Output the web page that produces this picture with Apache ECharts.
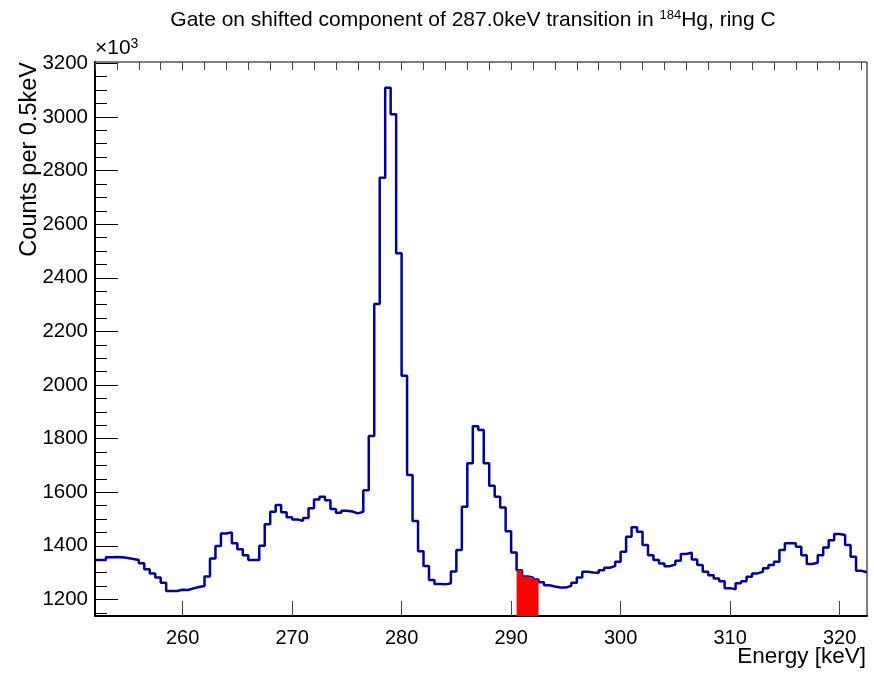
<!DOCTYPE html>
<html><head><meta charset="utf-8">
<script src="https://cdn.jsdelivr.net/npm/echarts@6/dist/echarts.min.js"></script>
<style>html,body{margin:0;padding:0;background:#fff}#c{width:874px;height:673px}</style>
</head><body><div id="c"></div>
<script>
// ---- data ----
const binLow = 252;          // lower edge of first bin (keV)
const binWidth = 0.5;        // keV per bin
const counts = [
  1347,1347,1357,1358,1357,1354,1351,1347,1335,1312,
  1297,1282,1262,1231,1231,1236,1235,1241,1246,1250,
  1285,1353,1399,1446,1450,1409,1387,1365,1347,1347,
  1400,1480,1527,1552,1525,1506,1498,1493,1504,1540,
  1573,1583,1570,1537,1523,1531,1528,1521,1527,1607,
  1810,2302,2773,3109,3010,2491,2034,1664,1492,1380,
  1325,1272,1257,1256,1260,1304,1384,1546,1708,1846,
  1832,1708,1624,1583,1543,1454,1375,1309,1285,1282,
  1274,1264,1253,1248,1244,1244,1251,1262,1282,1303,
  1300,1299,1309,1318,1324,1340,1378,1434,1469,1452,
  1403,1365,1347,1334,1324,1330,1344,1369,1374,1349,
  1328,1303,1290,1278,1268,1242,1238,1260,1268,1284,
  1297,1303,1316,1328,1340,1384,1409,1409,1396,1365,
  1332,1337,1365,1394,1421,1444,1440,1403,1359,1307,
  1301
];
const gateRange = [290.5, 292.5];
const xRange = [252, 322.5];
const yRange = [1138, 3205];
const xMajorTicks = [260, 270, 280, 290, 300, 310, 320];
const xMinorTicks = [252,254,256,258,260,262,264,266,268,270,272,274,276,278,280,282,284,286,288,290,292,294,296,298,300,302,304,306,308,310,312,314,316,318,320,322];
const yMajorTicks = [1200,1400,1600,1800,2000,2200,2400,2600,2800,3000,3200];
const yMinorTicks = [1150,1200,1250,1300,1350,1400,1450,1500,1550,1600,1650,1700,1750,1800,1850,1900,1950,2000,2050,2100,2150,2200,2250,2300,2350,2400,2450,2500,2550,2600,2650,2700,2750,2800,2850,2900,2950,3000,3050,3100,3150,3200];
const titleMain = 'Gate on shifted component of 287.0keV transition in ';
const titleSup = '184';
const titleEnd = 'Hg, ring C';
const yTitle = 'Counts per 0.5keV';
const xTitle = 'Energy [keV]';

// ---- build ----
const FONT = '"Liberation Sans", Helvetica, Arial, sans-serif';
const histPts = counts.map((v, i) => [binLow + i * binWidth, v]);
histPts.push([binLow + counts.length * binWidth, counts[counts.length - 1]]);
const gatePts = [];
counts.forEach((v, i) => {
  const lo = binLow + i * binWidth;
  if (lo >= gateRange[0] - 1e-9 && lo < gateRange[1] - 1e-9) gatePts.push([lo, v]);
});
gatePts.push([gateRange[1], gatePts[gatePts.length - 1][1]]);

const chart = echarts.init(document.getElementById('c'), null, {renderer: 'canvas'});
const commonX = {type: 'value', min: xRange[0], max: xRange[1], splitLine: {show: false}};
const commonY = {type: 'value', min: yRange[0], max: yRange[1], splitLine: {show: false}};
const plain = v => String(v);
chart.setOption({
  animation: false,
  backgroundColor: '#fff',
  grid: {left: 95, right: 7, top: 62, bottom: 57, show: true, borderColor: '#000', borderWidth: 1, backgroundColor: 'transparent'},
  xAxis: [
    Object.assign({}, commonX, {
      axisLine: {show: true, onZero: false, lineStyle: {color: '#000', width: 2}},
      axisTick: {show: true, inside: true, length: 15, customValues: xMajorTicks, lineStyle: {color: '#444', width: 1}},
      axisLabel: {show: true, customValues: xMajorTicks, formatter: plain, margin: 12, fontFamily: FONT, fontSize: 20, color: '#000'}
    }),
    Object.assign({}, commonX, {
      axisLine: {show: false},
      axisTick: {show: true, inside: true, length: 8, customValues: xMinorTicks, lineStyle: {color: '#444', width: 1}},
      axisLabel: {show: false}
    })
  ],
  yAxis: [
    Object.assign({}, commonY, {
      axisLine: {show: true, onZero: false, lineStyle: {color: '#000', width: 2}},
      axisTick: {show: true, inside: true, length: 23, customValues: yMajorTicks, lineStyle: {color: '#000', width: 1}},
      axisLabel: {show: true, customValues: yMajorTicks, formatter: plain, margin: 7, fontFamily: FONT, fontSize: 20.5, color: '#000'}
    }),
    Object.assign({}, commonY, {
      position: 'left',
      axisLine: {show: false},
      axisTick: {show: true, inside: true, length: 12, customValues: yMinorTicks, lineStyle: {color: '#000', width: 1}},
      axisLabel: {show: false}
    })
  ],
  series: [
    {
      type: 'line', xAxisIndex: 0, yAxisIndex: 0, step: 'end', data: histPts,
      showSymbol: false, symbol: 'none', clip: true, z: 2,
      lineStyle: {color: '#000099', width: 2.5}
    },
    {
      type: 'line', xAxisIndex: 0, yAxisIndex: 0, step: 'end', data: gatePts,
      showSymbol: false, symbol: 'none', clip: true, z: 3,
      lineStyle: {width: 0, color: '#ff0000'},
      areaStyle: {color: '#ff0000', opacity: 1, origin: 'start'}
    }
  ],
  graphic: [
    {
      type: 'text', x: 473, y: 20,
      style: {
        text: '{n|' + titleMain + '}{s|' + titleSup + '}{n|' + titleEnd + '}',
        textAlign: 'center', textVerticalAlign: 'middle',
        rich: {
          n: {fontFamily: FONT, fontSize: 21, fill: '#000', verticalAlign: 'bottom', lineHeight: 22},
          s: {fontFamily: FONT, fontSize: 13, fill: '#000', verticalAlign: 'top', lineHeight: 22}
        }
      }
    },
    {
      type: 'text', x: 95, y: 59,
      style: {
        text: '{n|\u00d710}{s|3}',
        textVerticalAlign: 'bottom',
        rich: {
          n: {fontFamily: FONT, fontSize: 21, fill: '#000', verticalAlign: 'bottom', lineHeight: 22},
          s: {fontFamily: FONT, fontSize: 14, fill: '#000', verticalAlign: 'top', lineHeight: 22}
        }
      }
    },
    {
      type: 'text', x: 30, y: 62, rotation: Math.PI / 2,
      style: {text: yTitle, fontFamily: FONT, fontSize: 23.5, fill: '#000', textAlign: 'right', textVerticalAlign: 'middle'}
    },
    {
      type: 'text', x: 866, y: 657,
      style: {text: xTitle, fontFamily: FONT, fontSize: 22.5, fill: '#000', textAlign: 'right', textVerticalAlign: 'middle'}
    }
  ]
});
</script>
</body></html>
